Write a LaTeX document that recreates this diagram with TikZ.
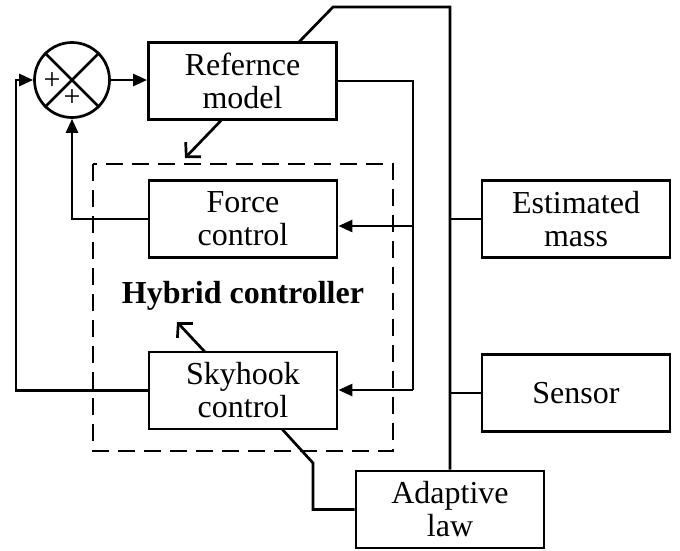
\documentclass[tikz,border=0pt]{standalone}
\usepackage{fontspec}
\setmainfont{Liberation Serif}
\usetikzlibrary{arrows.meta}
\begin{document}
\begin{tikzpicture}[x=1pt,y=-1pt,
  line width=2.7pt,
  box/.style={draw,line width=2.9pt,minimum width=188pt,minimum height=77pt,inner sep=0pt,align=center,font=\fontsize{32}{33}\selectfont},
  arr/.style={-{Triangle[length=14pt,width=12pt]}},
  barb/.style={-{Straight Barb[length=10pt,width=21pt]}},
  dashbox/.style={dash pattern=on 17pt off 9pt},
  line join=miter]
\useasboundingbox (0,0) rectangle (680,550);
% summing junction
\node[draw,circle,minimum size=75pt,inner sep=0pt] (sum) at (72,80) {};
\draw (sum.north east) -- (sum.south west);
\draw (sum.north west) -- (sum.south east);
\node[font=\fontsize{30}{30}\selectfont,inner sep=0pt] (p1) at (52,81) {+};
\node[font=\fontsize{30}{30}\selectfont,inner sep=0pt] (p2) at (72,98) {+};
% boxes
\node[box] (ref) at (242.5,81) {Refernce\\model};
\node[box] (force) at (243,219) {Force\\control};
\node[box] (sky) at (243,390.5) {Skyhook\\control};
\node[box] (est) at (576,219) {Estimated\\mass};
\node[box] (sensor) at (576,393) {Sensor};
\node[box] (adapt) at (450,509.5) {Adaptive\\law};
% dashed hybrid controller
\draw[dashbox] (93,164) rectangle (393,451);
\node[font=\fontsize{32}{33}\selectfont\bfseries] (hyb) at (243,296) {Hybrid controller};
% coordinates
\coordinate (a1) at (298,43);
\coordinate (t1) at (333,7);
\coordinate (t2) at (450,7);
\coordinate (j1) at (413,81);
\coordinate (j2) at (413,226);
\coordinate (j3) at (413,390);
\coordinate (k1) at (450,219);
\coordinate (k2) at (450,393);
\coordinate (s1) at (313,509.5);
\coordinate (s2) at (313,463);
\coordinate (s3) at (282,429);
\coordinate (l1) at (16,390.5);
\coordinate (l2) at (16,80);
\coordinate (f1) at (72,219);
\coordinate (rb) at (222,119.5);
\coordinate (rbe) at (185,158);
\coordinate (st) at (205,352);
\coordinate (ste) at (177,322);
% connectors
\draw[arr] (sum.east) -- (sum.east -| ref.west);
\draw (a1) -- (t1) -- (t2) -- (adapt.north);
\draw (ref.east) -- (j1) -- (j3);
\draw[arr] (j2) -- (j2 -| force.east);
\draw[arr] (j3) -- (j3 -| sky.east);
\draw (k1) -- (est.west);
\draw (k2) -- (sensor.west);
\draw (adapt.west) -- (s1) -- (s2) -- (s3);
\draw[arr] (sky.west) -- (l1) -- (l2) -- (sum.west);
\draw[arr] (force.west) -- (f1) -- (sum.south);
\draw[barb] (rb) -- (rbe);
\draw[barb] (st) -- (ste);
\end{tikzpicture}
\end{document}
